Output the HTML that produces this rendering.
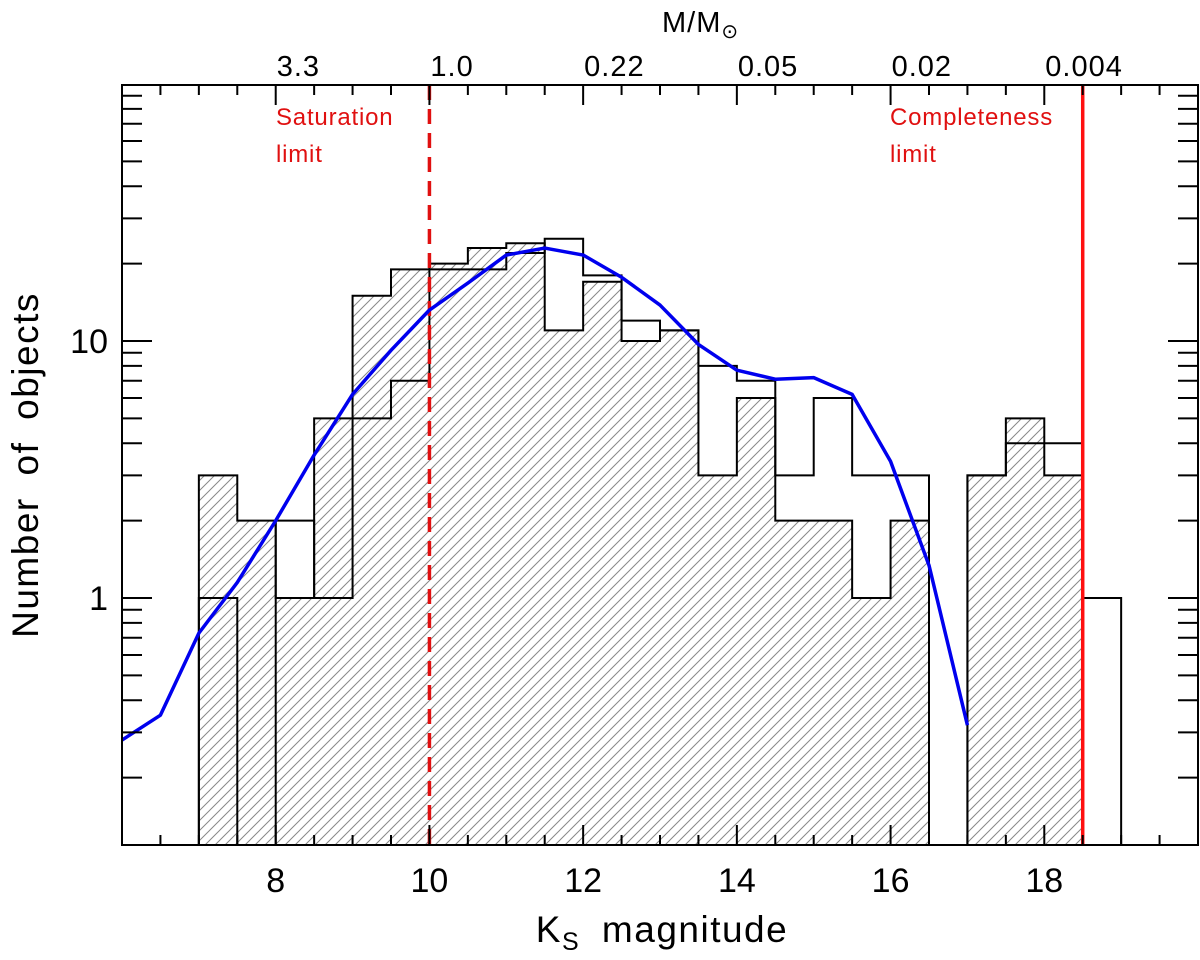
<!DOCTYPE html>
<html><head><meta charset="utf-8"><style>
html,body{margin:0;padding:0;background:#fff;}
svg{display:block;font-family:"Liberation Sans",sans-serif;}
</style></head><body>
<svg id="chart" width="1200" height="960" viewBox="0 0 1200 960" xmlns="http://www.w3.org/2000/svg">
<defs>
<pattern id="hatch" patternUnits="userSpaceOnUse" width="10" height="10">
<path d="M-1,11 L11,-1 M-2,2 L2,-2 M8,12 L12,8" stroke="#888" stroke-width="1"/>
</pattern>
<clipPath id="plotclip"><rect x="122" y="85" width="1076" height="760"/></clipPath>
</defs>
<g id="plot" clip-path="url(#plotclip)"></g>
<g id="axes"></g>
</svg>
<script>
const binStarts = [7,7.5,8,8.5,9,9.5,10,10.5,11,11.5,12,12.5,13,13.5,14,14.5,15,15.5,16,16.5,17,17.5,18,18.5];
const hatchedCounts = [3,2,1,5,15,19,20,23,24,11,17,10,11,3,6,2,2,1,2,0,3,5,3,0];
const openCounts = [1,0,2,1,5,7,19,19,22,25,18,12,11,8,7,3,6,3,3,0,3,4,4,1];
const curveX = [6,6.5,7,7.5,8,8.5,9,9.5,10,10.5,11,11.5,12,12.5,13,13.5,14,14.5,15,15.5,16,16.5,17];
const curveY = [0.28,0.35,0.73,1.15,2.0,3.6,6.2,9.2,13.2,16.8,21.6,23,21.6,17.7,13.8,9.7,7.7,7.1,7.2,6.2,3.4,1.34,0.32];
const bottomTicks = [8,10,12,14,16,18];
const topMassLabels = ["3.3","1.0","0.22","0.05","0.02","0.004"];
const yMajor = [1,10];
const yMajorLabels = ["1","10"];
const binWidth = 0.5;
const saturationMag = 10;
const completenessMag = 18.5;

const L=122,R=1198,T=85,B=845;
const X0=6,X1=20;
const yDec=257, y1px=598;
function xs(m){return L+(m-X0)*(R-L)/(X1-X0);}
function ys(v){ if(v<=0) return B+5; return y1px - yDec*Math.log10(v);}
const NS="http://www.w3.org/2000/svg";
function mk(tag,attrs,parent){const e=document.createElementNS(NS,tag);for(const k in attrs)e.setAttribute(k,attrs[k]);parent.appendChild(e);return e;}
const plot=document.getElementById('plot'), axes=document.getElementById('axes');

function stepPath(counts){
  let d='M'+xs(binStarts[0])+','+(B+5);
  for(let i=0;i<binStarts.length;i++){
    const y=ys(counts[i]);
    d+=' L'+xs(binStarts[i])+','+y+' L'+xs(binStarts[i]+binWidth)+','+y;
  }
  d+=' L'+xs(binStarts[binStarts.length-1]+binWidth)+','+(B+5);
  return d;
}
const hf=mk('path',{d:stepPath(hatchedCounts)+' Z',fill:'url(#hatch)',stroke:'none'},plot);


const ho=mk('path',{d:stepPath(hatchedCounts),fill:'none',stroke:'#000','stroke-width':2},plot);


const oo=mk('path',{d:stepPath(openCounts),fill:'none',stroke:'#000','stroke-width':2},plot);



const sat=mk('line',{x1:xs(saturationMag),x2:xs(saturationMag),y1:T,y2:B,stroke:'#e01010','stroke-width':3.5,'stroke-dasharray':'15 9'},plot);


const comp=mk('line',{x1:xs(completenessMag),x2:xs(completenessMag),y1:T,y2:B,stroke:'#ff1010','stroke-width':3.5},plot);



const pts=curveX.map((m,i)=>xs(m)+','+ys(curveY[i])).join(' ');
const cv=mk('polyline',{points:pts,fill:'none',stroke:'#0000ee','stroke-width':3.5,'stroke-linejoin':'round'},plot);



const fr=mk('rect',{x:L,y:T,width:R-L,height:B-T,fill:'none',stroke:'#000','stroke-width':2},axes);


for(let m=6.5;m<20;m+=0.5){
  const major=bottomTicks.includes(m);
  const len=major?20:10;
  mk('line',{x1:xs(m),x2:xs(m),y1:B,y2:B-len,stroke:'#000','stroke-width':2},axes);
  mk('line',{x1:xs(m),x2:xs(m),y1:T,y2:T+len,stroke:'#000','stroke-width':2},axes);
}
bottomTicks.forEach((m,i)=>{
  const t=mk('text',{x:xs(m),y:892,'text-anchor':'middle','font-size':34},axes);
  t.textContent=String(m);
  
  
  const u=mk('text',{x:xs(m)+1,y:76,'text-anchor':'start','font-size':29,'letter-spacing':1},axes);
  u.textContent=topMassLabels[i];
  
  
});
for(let dec=0.1;dec<100;dec*=10){
  for(let k=1;k<=9;k++){
    const v=dec*k; const y=ys(v);
    if(y>B-1||y<T+1) continue;
    const major=(k===1);
    mk('line',{x1:L,x2:L+(major?30:20),y1:y,y2:y,stroke:'#000','stroke-width':2},axes);
    mk('line',{x1:R,x2:R-(major?30:20),y1:y,y2:y,stroke:'#000','stroke-width':2},axes);
  }
}
yMajor.forEach((v,i)=>{
  const t=mk('text',{x:108,y:ys(v)+12,'text-anchor':'end','font-size':34},axes);
  t.textContent=yMajorLabels[i];
  
  
});
</script>
<svg style="position:absolute;left:0;top:0" width="1200" height="960">
<text x="0" y="0" transform="translate(38,465) rotate(-90)" text-anchor="middle" font-size="37" letter-spacing="1.5" word-spacing="10" font-family="Liberation Sans, sans-serif">Number of objects</text>
<text x="662" y="942" text-anchor="middle" font-size="37" letter-spacing="1.5" word-spacing="10" font-family="Liberation Sans, sans-serif">K<tspan font-size="25" dy="8">S</tspan><tspan dy="-8"> magnitude</tspan></text>
<text x="662" y="32" font-size="29" letter-spacing="1" font-family="Liberation Sans, sans-serif">M/M<tspan font-size="20" dy="6">⊙</tspan></text>
<text x="276" y="125" font-size="24" letter-spacing="0.8" fill="#e01010" font-family="Liberation Sans, sans-serif">Saturation</text>
<text x="276" y="162" font-size="24" letter-spacing="0.8" fill="#e01010" font-family="Liberation Sans, sans-serif">limit</text>
<text x="890" y="125" font-size="24" letter-spacing="0.8" fill="#e01010" font-family="Liberation Sans, sans-serif">Completeness</text>
<text x="890" y="162" font-size="24" letter-spacing="0.8" fill="#e01010" font-family="Liberation Sans, sans-serif">limit</text>
</svg>
</body></html>
